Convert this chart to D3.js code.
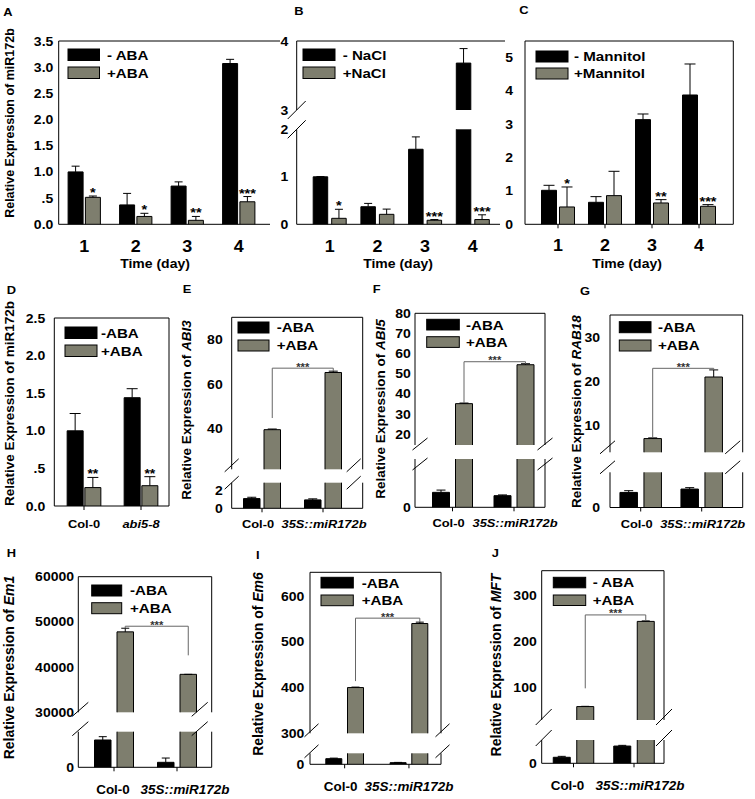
<!DOCTYPE html>
<html><head><meta charset="utf-8">
<script src="https://cdn.jsdelivr.net/npm/d3@7"></script>
<style>
body{margin:0;background:#fff}
svg{display:block}
text{font-family:"Liberation Sans",Arial,sans-serif;font-weight:bold;fill:#000}
</style></head><body>
<svg id="fig" width="755" height="799"></svg>
<script>
// ---------------- DATA ----------------
const dayLabels = ["1","2","3","4"];
// A: miR172b, ABA
const abaMinusA = [1.00, 0.37, 0.73, 3.07];
const abaMinusSdA = [0.11, 0.22, 0.08, 0.08];
const abaPlusA = [0.515, 0.15, 0.076, 0.43];
const abaPlusSdA = [0.025, 0.06, 0.074, 0.10];
const starsA = ["*","*","**","***"];
const ticksA = [0,0.5,1,1.5,2,2.5,3,3.5];
const legendA = ["- ABA","+ABA"];
// B: NaCl
const naclMinusB = [1.00, 0.37, 1.58, 3.68];
const naclMinusSdB = [0.005, 0.07, 0.26, 0.21];
const naclPlusB = [0.126, 0.21, 0.085, 0.10];
const naclPlusSdB = [0.19, 0.11, 0.015, 0.10];
const starsB = ["*","","***","***"];
const ticksLowB = [0,1,2], ticksUpB = [3,4];
const legendB = ["- NaCl","+NaCl"];
// C: Mannitol
const manMinusC = [1.02, 0.66, 3.14, 3.88];
const manMinusSdC = [0.15, 0.17, 0.17, 0.93];
const manPlusC = [0.52, 0.86, 0.64, 0.54];
const manPlusSdC = [0.60, 0.73, 0.10, 0.05];
const starsC = ["*","","**","***"];
const ticksC = [0,1,2,3,4,5];
const legendC = ["- Mannitol","+Mannitol"];
// D: miR172b in abi5-8
const genotypesD = ["Col-0","abi5-8"];
const abaMinusD = [1.00, 1.44], abaMinusSdD = [0.23, 0.12];
const abaPlusD = [0.245, 0.27], abaPlusSdD = [0.135, 0.12];
const starsD = ["**","**"];
const ticksD = [0,0.5,1,1.5,2,2.5];
const legendRow = ["-ABA","+ABA"];
const legendJ = ["- ABA","+ABA"];
const genotypesOE = ["Col-0","35S::miR172b"];
// E: ABI3
const abi3Minus = [1.10, 0.95], abi3MinusSd = [0.15, 0.12];
const abi3Plus = [39.5, 65.2], abi3PlusSd = [0.3, 0.6];
const abi3TicksLow = [0,2], abi3TicksUp = [40,60,80];
// F: ABI5
const abi5Minus = [0.99, 0.77], abi5MinusSd = [0.15, 0.05];
const abi5Plus = [35.2, 54.5], abi5PlusSd = [0.3, 0.5];
const abi5TicksLow = [0], abi5TicksUp = [20,30,40,50,60,70,80];
// G: RAB18
const rab18Minus = [2.14, 2.62], rab18MinusSd = [0.25, 0.2];
const rab18Plus = [7.1, 21.0], rab18PlusSd = [0.15, 1.6];
const rab18TicksLow = [0], rab18TicksUp = [10,20,30];
// H: Em1
const em1Minus = [7670, 1400], em1MinusSd = [930, 1200];
const em1Plus = [47800, 38400], em1PlusSd = [800, 0];
const em1TicksLow = [0], em1TicksUp = [30000,40000,50000,60000];
// I: Em6
const em6Minus = [15.3, 4.4], em6MinusSd = [1.5, 0.8];
const em6Plus = [400, 540], em6PlusSd = [1, 3];
const em6TicksLow = [0], em6TicksUp = [300,400,500,600];
// J: MFT
const mftMinus = [12.9, 37], mftMinusSd = [2, 1.5];
const mftPlus = [59, 243], mftPlusSd = [0.5, 1];
const mftTicksLow = [0], mftTicksUp = [100,200,300];

// ---------------- DRAWING ----------------
const SX = 1.12;
const GRAY = "#7e7e6e";
const svg = d3.select("#fig");
const fmtHalf = v => v === 0.5 ? ".5" : d3.format(".1f")(v);

function htext(g, x, y, str, size, anchor, italic) {
  return g.append("text")
    .attr("transform", `translate(${x},${y}) scale(${SX},1)`)
    .attr("text-anchor", anchor || "start")
    .style("font-size", size + "px")
    .style("font-style", italic ? "italic" : null)
    .text(str);
}

function panel(c) {
  const g = svg.append("g");
  const [bx0, bx1, by0, by1] = c.box;
  const x = d3.scaleBand().domain(c.cats).range(c.xr);
  const broken = !!c.up;
  const yL = d3.scaleLinear().domain(c.low).range([by1, broken ? c.gapLow : by0]);
  const yU = broken ? d3.scaleLinear().domain(c.up).range([c.gapHigh, by0]) : null;
  const yOf = v => (!broken || v <= c.low[1]) ? yL(v) : yU(v);
  const cx = d => x(d) + x.bandwidth() / 2;
  const barX = (si, d) => si === 0 ? cx(d) - c.gap / 2 - c.bw : cx(d) + c.gap / 2;
  const series = [
    {vals: c.minus, sd: c.minusSd, fill: "#000"},
    {vals: c.plus, sd: c.plusSd, fill: GRAY}
  ];
  const line = (x1, y1, x2, y2, col) => g.append("line")
    .attr("x1", x1).attr("y1", y1).attr("x2", x2).attr("y2", y2)
    .attr("stroke", col || "#000").attr("stroke-width", 1);

  // bars + error bars
  series.forEach((s, si) => {
    c.cats.forEach((d, i) => {
      const v = s.vals[i], x0 = barX(si, d), x1 = x0 + c.bw;
      const pieces = (!broken || v <= c.low[1]) ? [[yL(v), by1, true]]
        : [[c.gapLow, by1, false], [yU(v), c.gapHigh, true]];
      pieces.forEach(([yt, yb, top]) => {
        g.append("rect").attr("x", x0).attr("y", yt).attr("width", c.bw)
          .attr("height", Math.max(0, yb - yt)).attr("fill", s.fill);
        g.append("path")
          .attr("d", top ? `M${x0},${yb}V${yt}H${x1}V${yb}` : `M${x0},${yb}V${yt}M${x1},${yt}V${yb}`)
          .attr("fill", "none").attr("stroke", "#000").attr("stroke-width", 1);
      });
      const ex = x0 + c.bw / 2, ye = yOf(v + s.sd[i]);
      g.append("path")
        .attr("d", `M${ex},${yOf(v)}V${ye}M${ex - c.cap / 2},${ye}H${ex + c.cap / 2}`)
        .attr("fill", "none").attr("stroke", "#000").attr("stroke-width", 1);
    });
  });

  // significance stars above +treatment bars
  if (c.stars) c.cats.forEach((d, i) => {
    if (!c.stars[i]) return;
    const ex = barX(1, d) + c.bw / 2, ye = yOf(c.plus[i] + c.plusSd[i]);
    htext(g, ex, ye + c.starDy, c.stars[i], c.starFont, "middle");
  });

  // bracket
  if (c.bracket) {
    const b = c.bracket;
    const xs = c.cats.map(d => barX(1, d) + c.bw / 2);
    const ys = c.cats.map((d, i) => yOf(c.plus[i] + c.plusSd[i]));
    const yBr = Math.min(...ys) - b.pad;
    g.append("path")
      .attr("d", `M${xs[0]},${ys[0] - b.off[0]}V${yBr}H${xs[1]}V${ys[1] - b.off[1]}`)
      .attr("fill", "none").attr("stroke", "#666").attr("stroke-width", 1);
    htext(g, (xs[0] + xs[1]) / 2, yBr + 2.5, "***", 10, "middle").style("fill", "#333");
  }

  // y axes
  const yAx = (scale, ticks) => {
    const a = g.append("g").attr("transform", `translate(${bx0},0)`)
      .call(d3.axisLeft(scale).tickValues(ticks).tickSize(0).tickPadding(c.lg)
        .tickFormat(c.fmt || d3.format("d")));
    a.select(".domain").remove();
    a.selectAll("text").attr("x", -c.lg / SX).attr("transform", `scale(${SX},1)`)
      .style("font-size", "12.5px");
  };
  yAx(yL, c.lowTicks);
  if (broken) yAx(yU, c.upTicks);

  // x axis
  const xa = g.append("g").attr("transform", `translate(0,${by1})`)
    .call(d3.axisBottom(x).tickSize(c.xTick).tickSizeOuter(0));
  xa.select(".domain").remove();
  xa.selectAll("line").attr("stroke", "#000");
  xa.selectAll("text").attr("y", null).attr("dy", null)
    .attr("transform", (d, i) => `translate(${c.xDx ? c.xDx[i] : 0},${c.xLabOff}) scale(${SX},1)`)
    .style("font-size", c.xFont + "px")
    .style("font-style", (d, i) => c.xItalic && c.xItalic[i] ? "italic" : null);

  // frame lines
  const segs = broken ? [[by0, c.gapHigh], [c.gapLow, by1]] : [[by0, by1]];
  segs.forEach(([a, b]) => { line(bx0, a, bx0, b); if (c.right) line(bx1, a, bx1, b); });
  line(bx0, by0, c.topEnd || bx1, by0);
  line(bx0, by1, c.botEnd || bx1, by1);

  // axis break marks
  if (broken) {
    const m = c.marks;
    const ys = [c.gapHigh + m.d1, c.gapLow + m.d2];
    const xs = [bx0 + m.lOff];
    if (c.right) xs.push(bx1 + m.rOff);
    xs.forEach(xx => ys.forEach(yy => line(xx - m.dx, yy + m.dy, xx + m.dx, yy - m.dy)));
  }

  // legend
  const L = c.leg;
  ["#000", GRAY].forEach((f, i) => {
    const yy = i ? L.y2 : L.y1;
    g.append("rect").attr("x", L.x).attr("y", yy).attr("width", L.w).attr("height", L.h)
      .attr("fill", f).attr("stroke", "#000").attr("stroke-width", 1);
    htext(g, L.tx, yy + L.h / 2 + 13.5 * 0.36, c.legend[i], 13.5, "start");
  });

  // titles
  if (c.title) {
    const t = g.append("text")
      .attr("transform", `translate(${c.title.x},${c.title.y}) rotate(-90)`)
      .attr("text-anchor", "middle").style("font-size", c.title.font + "px");
    c.title.parts.forEach(([s, it]) => t.append("tspan").text(s).style("font-style", it ? "italic" : null));
  }
  if (c.xTitle) htext(g, c.xTitle.x, c.xTitle.y, c.xTitle.text, c.xTitle.font, "middle");
  htext(g, c.letter[1], c.letter[2], c.letter[0], 11.5, "start");
}

const yTitle = gene => [["Relative Expression of ", false], [gene, true]];

// ---------- Row 1 ----------
panel({cats: dayLabels, minus: abaMinusA, minusSd: abaMinusSdA, plus: abaPlusA, plusSd: abaPlusSdA,
  stars: starsA, legend: legendA, xr: [58.5, 264.5], bw: 15, gap: 2.3, cap: 8,
  box: [58.7, 270, 41, 224.3], right: false, topEnd: 280, botEnd: 270,
  low: [0, 3.5], lowTicks: ticksA, fmt: fmtHalf, lg: 5.4,
  xTick: 0, xLabOff: 28, xFont: 16,
  leg: {x: 68, y1: 49, y2: 67, w: 31.5, h: 11.5, tx: 107},
  title: {parts: [["Relative Expression of miR172b", false]], x: 13.5, y: 123, font: 12.5},
  xTitle: {text: "Time (day)", x: 155, y: 268, font: 12.5},
  letter: ["A", 3.3, 15.7], starFont: 13, starDy: 1});

panel({cats: dayLabels, minus: naclMinusB, minusSd: naclMinusSdB, plus: naclPlusB, plusSd: naclPlusSdB,
  stars: starsB, legend: legendB, xr: [305.85, 496.65], bw: 14.5, gap: 4, cap: 8,
  box: [296.7, 500, 41, 224.3], right: false, topEnd: 505, botEnd: 500,
  low: [0, 2], up: [3, 4], gapLow: 129.3, gapHigh: 110,
  lowTicks: ticksLowB, upTicks: ticksUpB, lg: 8.4,
  marks: {lOff: 0, rOff: 0, dx: 9, dy: 9, d1: 0, d2: 0},
  xTick: 0, xLabOff: 28, xFont: 16,
  leg: {x: 303, y1: 49, y2: 67, w: 32, h: 11.5, tx: 342.7},
  xTitle: {text: "Time (day)", x: 398, y: 268, font: 12.5},
  letter: ["B", 294.3, 14.5], starFont: 13, starDy: 1});

panel({cats: dayLabels, minus: manMinusC, minusSd: manMinusSdC, plus: manPlusC, plusSd: manPlusSdC,
  stars: starsC, legend: legendC, xr: [534.5, 722.5], bw: 15, gap: 3, cap: 11,
  box: [525, 733.3, 41, 224.3], right: true,
  low: [0, 5.5], lowTicks: ticksC, lg: 12,
  xTick: 4, xLabOff: 27, xFont: 16,
  leg: {x: 536, y1: 51, y2: 68, w: 32, h: 11, tx: 574},
  xTitle: {text: "Time (day)", x: 627, y: 268, font: 12.5},
  letter: ["C", 519.3, 13.5], starFont: 13, starDy: 1});

// ---------- Row 2 ----------
panel({cats: genotypesD, minus: abaMinusD, minusSd: abaMinusSdD, plus: abaPlusD, plusSd: abaPlusSdD,
  stars: starsD, legend: legendRow, xr: [55.5, 169.5], bw: 16, gap: 1.7, cap: 11,
  box: [54.3, 169, 318, 506], right: true,
  low: [0, 2.5], lowTicks: ticksD, fmt: fmtHalf, lg: 9,
  xTick: 4, xLabOff: 21.5, xFont: 11.5, xItalic: [false, true],
  leg: {x: 65, y1: 327, y2: 345, w: 32, h: 11.5, tx: 101},
  title: {parts: [["Relative Expression of miR172b", false]], x: 13.5, y: 403.5, font: 13.5},
  letter: ["D", 6.7, 294], starFont: 12.5, starDy: 1});

panel({cats: genotypesOE, minus: abi3Minus, minusSd: abi3MinusSd, plus: abi3Plus, plusSd: abi3PlusSd,
  legend: legendRow, xr: [231.5, 353.5], bw: 16.5, gap: 4, cap: 9,
  box: [231.7, 362.7, 317.3, 508.3], right: true,
  low: [0, 2.9], up: [21.7, 90], gapLow: 482.7, gapHigh: 469.3,
  lowTicks: abi3TicksLow, upTicks: abi3TicksUp, lg: 9,
  marks: {lOff: 0, rOff: -9, dx: 7, dy: 6.5, d1: -4, d2: 0},
  xTick: 4, xLabOff: 20, xFont: 11.5, xItalic: [false, true], xDx: [-4, 1],
  leg: {x: 238, y1: 322, y2: 340, w: 31, h: 11, tx: 276.7},
  title: {parts: yTitle("ABI3"), x: 191, y: 410, font: 13.5},
  bracket: {pad: 3, off: [11, 0]},
  letter: ["E", 182.7, 293.3]});

panel({cats: genotypesOE, minus: abi5Minus, minusSd: abi5MinusSd, plus: abi5Plus, plusSd: abi5PlusSd,
  legend: legendRow, xr: [421.75, 544.75], bw: 17, gap: 6, cap: 9,
  box: [415, 545, 313.3, 507.3], right: true,
  low: [0, 3.2], up: [14.7, 80], gapLow: 459, gapHigh: 445,
  lowTicks: abi5TicksLow, upTicks: abi5TicksUp, lg: 4.3,
  marks: {lOff: 5, rOff: 0, dx: 7.5, dy: 6, d1: -1, d2: 5},
  xTick: 4, xLabOff: 20, xFont: 11.5, xItalic: [false, true], xDx: [-4, 1],
  leg: {x: 426.7, y1: 319.3, y2: 336.7, w: 32.6, h: 10.7, tx: 466},
  title: {parts: yTitle("ABI5"), x: 384.5, y: 409, font: 13.5},
  bracket: {pad: 2, off: [0, 0]},
  letter: ["F", 372.7, 293.3]});

panel({cats: genotypesOE, minus: rab18Minus, minusSd: rab18MinusSd, plus: rab18Plus, plusSd: rab18PlusSd,
  legend: legendRow, xr: [610.2, 732.2], bw: 17.5, gap: 6.5, cap: 9,
  box: [610, 742.7, 315, 507.5], right: true,
  low: [0, 5], up: [4, 35], gapLow: 472.3, gapHigh: 452.3,
  lowTicks: rab18TicksLow, upTicks: rab18TicksUp, lg: 10,
  marks: {lOff: -2.5, rOff: -10, dx: 7.5, dy: 6.5, d1: -5, d2: -5},
  xTick: 4, xLabOff: 20, xFont: 11.5, xItalic: [false, true], xDx: [-4, 1],
  leg: {x: 619.3, y1: 321.7, y2: 340, w: 31.7, h: 11, tx: 658},
  title: {parts: yTitle("RAB18"), x: 581, y: 411.7, font: 13.5},
  bracket: {pad: 1.6, off: [0, 0]},
  letter: ["G", 580, 295]});

// ---------- Row 3 ----------
panel({cats: genotypesOE, minus: em1Minus, minusSd: em1MinusSd, plus: em1Plus, plusSd: em1PlusSd,
  legend: legendRow, xr: [82.5, 208.5], bw: 16.5, gap: 6, cap: 8,
  box: [78.3, 211.7, 576.7, 767.3], right: true,
  low: [0, 10000], up: [30000, 60000], gapLow: 731.7, gapHigh: 712.3,
  lowTicks: em1TicksLow, upTicks: em1TicksUp, lg: 4.3,
  marks: {lOff: 2, rOff: -12, dx: 8, dy: 7, d1: -3, d2: -3},
  xTick: 4, xLabOff: 26.5, xFont: 12, xItalic: [false, true], xDx: [-1, 8],
  leg: {x: 91.7, y1: 585, y2: 602.7, w: 30, h: 11, tx: 130},
  title: {parts: yTitle("Em1"), x: 14, y: 667.5, font: 14},
  bracket: {pad: 2, off: [0, 19]},
  letter: ["H", 6.7, 557.3]});

panel({cats: genotypesOE, minus: em6Minus, minusSd: em6MinusSd, plus: em6Plus, plusSd: em6PlusSd,
  legend: legendRow, xr: [312.5, 441.1], bw: 16, gap: 5.7, cap: 8,
  box: [310, 441, 572.3, 764.3], right: true,
  low: [0, 30], up: [300, 652], gapLow: 753.3, gapHigh: 733.3,
  lowTicks: em6TicksLow, upTicks: em6TicksUp, lg: 5.7,
  marks: {lOff: 1.5, rOff: 1.5, dx: 7, dy: 6.5, d1: -3, d2: -2},
  xTick: 4, xLabOff: 26.5, xFont: 12, xItalic: [false, true], xDx: [-4, 0],
  leg: {x: 321, y1: 577.3, y2: 595, w: 32.3, h: 10.7, tx: 361.7},
  title: {parts: yTitle("Em6"), x: 263, y: 664, font: 14},
  bracket: {pad: 4, off: [6, 0]},
  letter: ["I", 256, 559.3]});

panel({cats: genotypesOE, minus: mftMinus, minusSd: mftMinusSd, plus: mftPlus, plusSd: mftPlusSd,
  legend: legendJ, xr: [543.25, 664.25], bw: 17, gap: 6.5, cap: 8,
  box: [541.7, 664, 570.7, 763.3], right: true,
  low: [0, 50], up: [30, 352.5], gapLow: 740, gapHigh: 720,
  lowTicks: mftTicksLow, upTicks: mftTicksUp, lg: 5,
  marks: {lOff: 2, rOff: 0, dx: 8, dy: 8, d1: -3, d2: -2},
  xTick: 4, xLabOff: 26.5, xFont: 12, xItalic: [false, true], xDx: [-6, 6],
  leg: {x: 553.3, y1: 577.3, y2: 595, w: 32.4, h: 10.5, tx: 592.7},
  title: {parts: yTitle("MFT"), x: 501, y: 665, font: 14},
  bracket: {pad: 6, off: [18, 0]},
  letter: ["J", 491.7, 557.3]});
</script>
</body></html>
